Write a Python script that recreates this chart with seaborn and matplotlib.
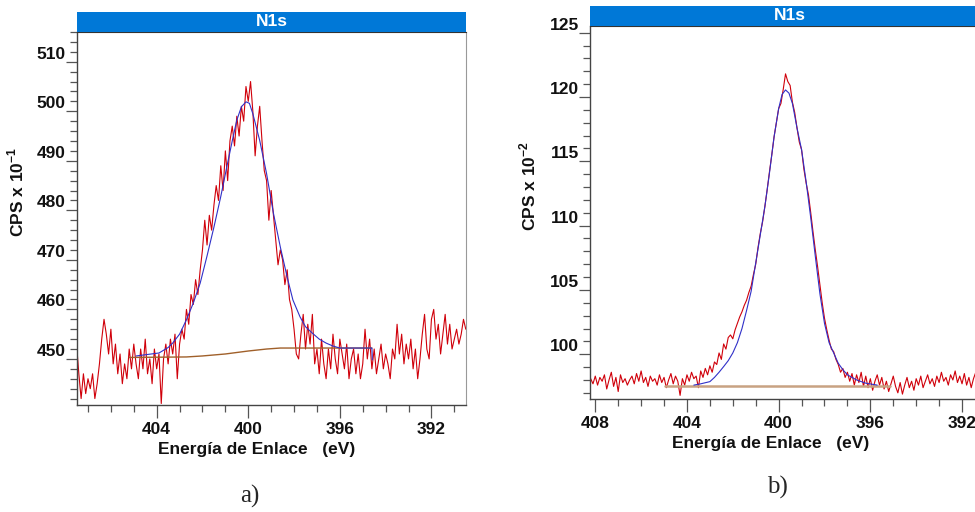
import numpy as np
import matplotlib
matplotlib.use("Agg")
import matplotlib.pyplot as plt
from matplotlib.patches import Rectangle
from matplotlib.ticker import MultipleLocator
import seaborn as sns

# ---------------- data ----------------
# Panel a): N1s spectrum, energy grid 407.5 -> 390.5 eV, step 0.1 eV
a_start, a_step = 407.5, 0.1
a_counts = [453, 447, 442, 447, 443, 446, 444, 447, 442, 445,
            449, 454, 458, 455, 451, 456, 449, 453, 447, 451,
            445, 449, 446, 452, 448, 453, 449, 446, 452, 448,
            454, 447, 450, 445, 452, 448, 451, 441, 450, 453,
            449, 454, 451, 455, 446, 453, 456, 454, 460, 457,
            463, 461, 466, 463, 468, 472, 478, 473, 479, 476,
            481, 485, 482, 489, 484, 492, 486, 494, 497, 493,
            499, 495, 501, 498, 505, 502, 506, 500, 491, 497,
            501, 494, 488, 486, 478, 484, 479, 474, 469, 472,
            470, 465, 468, 462, 460, 456, 451, 450, 455, 459,
            452, 457, 453, 459, 449, 452, 447, 454, 449, 446,
            452, 448, 455, 450, 447, 454, 451, 448, 453, 446,
            450, 452, 447, 451, 446, 449, 456, 450, 454, 448,
            452, 447, 450, 453, 448, 451, 449, 446, 452, 450,
            457, 451, 455, 449, 453, 450, 454, 448, 452, 446,
            450, 455, 459, 452, 450, 458, 460, 454, 457, 451,
            455, 459, 453, 457, 452, 454, 456, 453, 455, 458,
            456]
a_fit_e = [404.9, 404.4, 403.9, 403.5, 403.3, 403.0, 402.7, 402.4, 402.1, 401.8,
           401.5, 401.2, 400.94, 400.7, 400.5, 400.3, 400.1, 399.95, 399.8, 399.5,
           399.2, 398.9, 398.6, 398.3, 398.05, 397.74, 397.5, 397.2, 396.9, 396.6,
           396.3, 396.0, 395.0, 394.6, 394.58]
a_fit_v = [450.6, 450.9, 451.2, 452.3, 453.2, 455.0, 457.9, 461.3, 465.3, 470.8,
           476.6, 482.8, 488.7, 494.0, 498.2, 500.9, 501.9, 501.6, 499.5, 494.1,
           487.4, 479.4, 472.6, 466.5, 461.9, 458.5, 456.5, 455.2, 454.0, 453.2,
           452.6, 452.2, 452.2, 452.2, 449.8]
a_bg_e = [405.2, 402.7, 402.0, 401.0, 400.0, 399.2, 398.6, 394.6]
a_bg_v = [450.3, 450.4, 450.6, 451.0, 451.6, 452.0, 452.2, 452.2]

# Panel b): N1s spectrum, energy grid 408.2 -> 391.0 eV, step 0.1 eV
b_start, b_step = 408.2, 0.1
b_counts = [98.1, 97.7, 98.3, 97.6, 98.2, 97.9, 98.4, 97.3, 98.0, 98.6,
            97.5, 98.2, 97.1, 98.4, 97.8, 98.1, 97.6, 98.0, 98.3, 97.7,
            98.5, 97.9, 98.7, 97.8, 98.2, 97.5, 98.3, 97.9, 98.1, 97.6,
            98.4, 97.8, 98.2, 97.4, 98.0, 98.5, 97.7, 98.3, 97.9, 96.8,
            98.1, 97.6, 98.4, 97.9, 98.6, 98.1, 98.3, 97.4, 98.7, 98.2,
            98.9, 98.4, 99.1, 98.6, 99.4, 99.2, 100.1, 99.6, 100.8, 100.4,
            101.3, 101.5, 101.2, 101.9, 102.4, 102.9, 103.3, 103.8, 104.2, 104.8,
            105.3, 106.2, 107.0, 108.3, 109.4, 110.3, 111.5, 112.8, 114.2, 115.5,
            116.9, 118.0, 119.1, 119.5, 120.6, 121.8, 121.2, 120.9, 119.6, 118.8,
            117.6, 116.5, 115.9, 114.4, 113.3, 112.4, 111.0, 109.5, 108.1, 106.8,
            105.4, 104.0, 102.8, 101.9, 101.1, 100.4, 100.2, 99.6, 99.2, 98.6,
            98.9, 98.2, 98.6, 97.9, 98.5, 97.6, 98.4, 97.8, 98.6, 97.5,
            98.3, 97.4, 98.1, 97.2, 97.9, 98.4, 97.6, 98.2, 97.3, 97.9,
            97.1, 97.7, 98.3, 97.5, 97.0, 97.8, 96.9, 97.6, 98.2, 97.4,
            97.9, 97.2, 98.1, 97.6, 98.3, 97.4, 97.9, 98.4, 97.7, 98.1,
            97.5, 98.3, 97.8, 98.6, 97.9, 98.2, 97.6, 98.4, 98.0, 98.7,
            97.8, 98.3, 97.7, 98.5, 97.6, 98.2, 97.4, 98.1, 98.6, 97.9,
            98.3, 97.7, 98.0]
b_fit_e = [403.7, 403.4, 403.0, 402.8, 402.6, 402.4, 402.2, 402.0, 401.8, 401.6,
           401.4, 401.2, 401.0, 400.8, 400.6, 400.4, 400.2, 400.0, 399.85, 399.7,
           399.55, 399.4, 399.2, 399.0, 398.8, 398.6, 398.4, 398.2, 398.0, 397.8,
           397.6, 397.4, 397.2, 397.0, 396.6, 396.2, 395.7]
b_fit_v = [97.60, 97.70, 97.87, 98.2, 98.6, 99.04, 99.5, 100.1, 100.9, 102.0,
           103.4, 104.9, 107.1, 109.3, 111.5, 114.1, 116.9, 119.1, 120.2, 120.55,
           120.3, 119.5, 117.6, 115.9, 113.4, 110.6, 107.6, 104.7, 102.4, 100.9,
           100.1, 99.3, 98.8, 98.4, 98.0, 97.75, 97.6]
b_bg_e = [404.95, 395.13]
b_bg_v = [97.56, 97.56]

title_text = "N1s"
x_label = "Energía de Enlace   (eV)"
a_ylabel = r"CPS x 10$^{\mathbf{-1}}$"
b_ylabel = r"CPS x 10$^{\mathbf{-2}}$"
a_yticks = [450, 460, 470, 480, 490, 500, 510]
b_yticks = [100, 105, 110, 115, 120, 125]
xticks_all = [392, 396, 400, 404, 408]

# ---------------- style ----------------
sns.set_style("white")
plt.rcParams["font.family"] = ["Liberation Sans", "DejaVu Sans"]
plt.rcParams["mathtext.fontset"] = "custom"
plt.rcParams["mathtext.rm"] = "Liberation Sans"
plt.rcParams["mathtext.bf"] = "Liberation Sans:bold"

W, H = 975, 512
fig = plt.figure(figsize=(W / 100, H / 100), dpi=100)
fig.patch.set_facecolor("white")

def px_axes(x0, y0, x1, y1):
    return fig.add_axes([x0 / W, 1 - y1 / H, (x1 - x0) / W, (y1 - y0) / H])

ax_a = px_axes(77, 32, 466, 405)
ax_b = px_axes(590, 26, 990, 399)

red = "#d0000a"
blue = "#3030c8"

a_e = np.round(a_start - a_step * np.arange(len(a_counts)), 2)
b_e = np.round(b_start - b_step * np.arange(len(b_counts)), 2)

def style_axes(ax, yticks, ymaj, ymin, ylim, xlim, ylabel, ylab_xy, xlab_xy, bar_h_px, ax_h_px):
    ax.set_facecolor("white")
    ax.set_xlim(*xlim)
    ax.set_ylim(*ylim)
    ax.xaxis.set_major_locator(MultipleLocator(4))
    ax.xaxis.set_minor_locator(MultipleLocator(1))
    ax.yaxis.set_major_locator(MultipleLocator(ymaj))
    ax.yaxis.set_minor_locator(MultipleLocator(ymin))
    ax.set_yticks(yticks)
    ax.tick_params(axis="both", which="both", direction="out", color="#555555",
                   width=0.9, left=True, bottom=True, labelcolor="#111111")
    ax.tick_params(axis="y", which="major", length=8, pad=0, labelsize=12.5)
    ax.tick_params(axis="y", which="minor", length=5)
    ax.tick_params(axis="x", which="major", length=9, pad=3, labelsize=12.5)
    ax.tick_params(axis="x", which="minor", length=5)
    for lab in ax.get_yticklabels():
        lab.set_fontweight("bold")
        lab.set_verticalalignment("bottom")
    for lab in ax.get_xticklabels():
        lab.set_fontweight("bold")
    for s in ["left", "bottom"]:
        ax.spines[s].set_color("#444444")
        ax.spines[s].set_linewidth(1.0)
    ax.spines["right"].set_color("#999999")
    ax.spines["right"].set_linewidth(0.8)
    ax.spines["top"].set_color("#333333")
    ax.set_ylabel(ylabel, fontsize=12.5, fontweight="bold", color="#111111")
    ax.yaxis.set_label_coords(*ylab_xy)
    ax.set_xlabel(x_label, fontsize=12.5, fontweight="bold", color="#111111")
    ax.xaxis.set_label_coords(*xlab_xy)
    hb = bar_h_px / ax_h_px
    ax.add_patch(Rectangle((0, 1), 1, hb, transform=ax.transAxes, facecolor="#0078d7",
                           edgecolor="none", clip_on=False, zorder=5))
    ax.text(0.5, 1 + hb / 2, title_text, transform=ax.transAxes, ha="center", va="center",
            color="white", fontsize=12.5, fontweight="bold", zorder=6)

# Panel a
sns.lineplot(x=a_e, y=a_counts, ax=ax_a, color=red, lw=0.8, sort=False, estimator=None)
sns.lineplot(x=a_bg_e, y=a_bg_v, ax=ax_a, color="#a0602a", lw=1.0, sort=False, estimator=None)
sns.lineplot(x=a_fit_e, y=a_fit_v, ax=ax_a, color=blue, lw=0.8, sort=False, estimator=None)
style_axes(ax_a, a_yticks, 10, 2, (440.7, 516.0), (407.48, 390.49), a_ylabel,
           (-0.13, 0.57), (0.463, -0.1), 20, 373)

# Panel b
sns.lineplot(x=b_e, y=b_counts, ax=ax_b, color=red, lw=0.8, sort=False, estimator=None)
sns.lineplot(x=b_bg_e, y=b_bg_v, ax=ax_b, color="#c8a282", lw=1.8, sort=False, estimator=None)
sns.lineplot(x=b_fit_e, y=b_fit_v, ax=ax_b, color=blue, lw=0.8, sort=False, estimator=None)
style_axes(ax_b, b_yticks, 5, 1, (96.52, 125.52), (408.23, 390.78), b_ylabel,
           (-0.128, 0.57), (0.4525, -0.1), 20, 373)
ax_b.set_xticks(xticks_all)

fig.text(250 / W, 1 - 496 / H, "a)", ha="center", va="center", fontsize=18,
         family=["Liberation Serif", "DejaVu Serif"])
fig.text(777 / W, 1 - 487 / H, "b)", ha="center", va="center", fontsize=18,
         family=["Liberation Serif", "DejaVu Serif"])

fig.savefig("out.png", dpi=100, facecolor="white")
